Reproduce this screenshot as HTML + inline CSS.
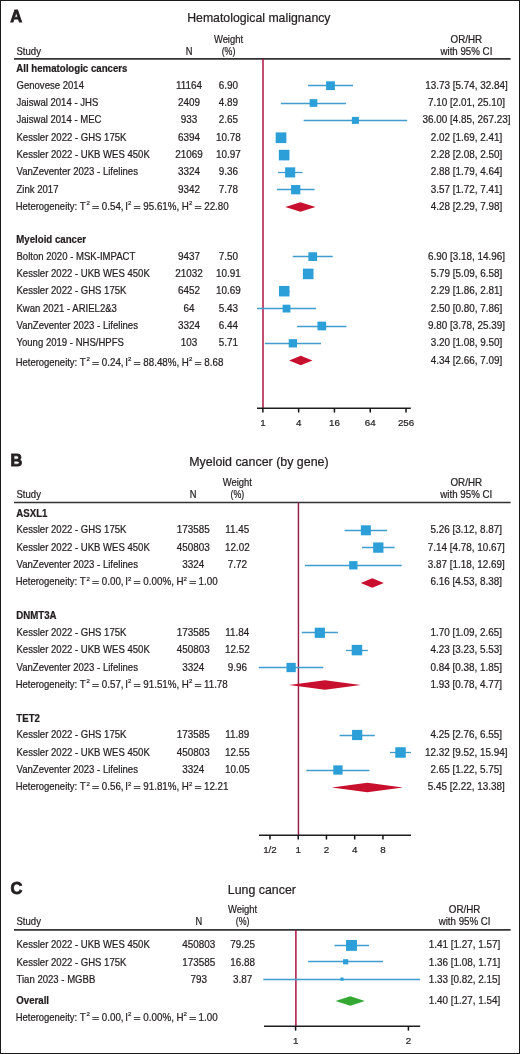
<!DOCTYPE html>
<html><head><meta charset="utf-8"><style>
html,body{margin:0;padding:0;background:#fff;}
svg{display:block;will-change:transform;}
text{font-family:"Liberation Sans",sans-serif;fill:#231f20;stroke:#231f20;stroke-width:0.22px;}
</style></head><body>
<svg width="520" height="1054" viewBox="0 0 520 1054">
<rect x="0" y="0" width="520" height="1054" fill="#fff"/>
<rect x="0.5" y="0.5" width="519" height="1053" fill="none" stroke="#1a1a1a" stroke-width="1"/>
<text x="10.30" y="22.10" font-size="17.2" text-anchor="start" font-weight="bold" textLength="11.92" lengthAdjust="spacingAndGlyphs" style="stroke-width:0.8px">A</text>
<text x="187.20" y="22.20" font-size="12.2" text-anchor="start" font-weight="normal" textLength="143.30" lengthAdjust="spacingAndGlyphs" >Hematological malignancy</text>
<text x="16.50" y="54.70" font-size="10.2" text-anchor="start" font-weight="normal" textLength="24.43" lengthAdjust="spacingAndGlyphs" >Study</text>
<text x="189.00" y="54.70" font-size="10.2" text-anchor="middle" font-weight="normal" textLength="6.72" lengthAdjust="spacingAndGlyphs" >N</text>
<text x="228.50" y="42.70" font-size="10.2" text-anchor="middle" font-weight="normal" textLength="29.20" lengthAdjust="spacingAndGlyphs" >Weight</text>
<text x="228.50" y="54.70" font-size="10.2" text-anchor="middle" font-weight="normal" textLength="13.72" lengthAdjust="spacingAndGlyphs" >(%)</text>
<text x="466.40" y="42.70" font-size="10.2" text-anchor="middle" font-weight="normal" textLength="31.58" lengthAdjust="spacingAndGlyphs" >OR/HR</text>
<text x="466.40" y="54.70" font-size="10.2" text-anchor="middle" font-weight="normal" textLength="51.92" lengthAdjust="spacingAndGlyphs" >with 95% CI</text>
<line x1="14.00" y1="58.90" x2="510.60" y2="58.90" stroke="#333" stroke-width="1.7"/>
<line x1="263.00" y1="58.90" x2="263.00" y2="408.20" stroke="#ab0c3c" stroke-width="1.45"/>
<line x1="257.00" y1="408.20" x2="410.80" y2="408.20" stroke="#1e1e1e" stroke-width="1.6"/>
<line x1="262.85" y1="408.20" x2="262.85" y2="412.50" stroke="#111" stroke-width="1.5"/>
<text x="262.85" y="425.80" font-size="9.8" text-anchor="middle" font-weight="normal" textLength="5.45" lengthAdjust="spacingAndGlyphs" >1</text>
<line x1="298.65" y1="408.20" x2="298.65" y2="412.50" stroke="#111" stroke-width="1.5"/>
<text x="298.65" y="425.80" font-size="9.8" text-anchor="middle" font-weight="normal" textLength="5.45" lengthAdjust="spacingAndGlyphs" >4</text>
<line x1="334.45" y1="408.20" x2="334.45" y2="412.50" stroke="#111" stroke-width="1.5"/>
<text x="334.45" y="425.80" font-size="9.8" text-anchor="middle" font-weight="normal" textLength="10.90" lengthAdjust="spacingAndGlyphs" >16</text>
<line x1="370.25" y1="408.20" x2="370.25" y2="412.50" stroke="#111" stroke-width="1.5"/>
<text x="370.25" y="425.80" font-size="9.8" text-anchor="middle" font-weight="normal" textLength="10.90" lengthAdjust="spacingAndGlyphs" >64</text>
<line x1="406.05" y1="408.20" x2="406.05" y2="412.50" stroke="#111" stroke-width="1.5"/>
<text x="406.05" y="425.80" font-size="9.8" text-anchor="middle" font-weight="normal" textLength="16.35" lengthAdjust="spacingAndGlyphs" >256</text>
<text x="16.30" y="71.90" font-size="10.2" text-anchor="start" font-weight="bold" textLength="111.11" lengthAdjust="spacingAndGlyphs" >All hematologic cancers</text>
<text x="16.50" y="88.70" font-size="10.2" text-anchor="start" font-weight="normal" textLength="67.46" lengthAdjust="spacingAndGlyphs" >Genovese 2014</text>
<text x="189.00" y="88.70" font-size="10.2" text-anchor="middle" font-weight="normal" textLength="26.05" lengthAdjust="spacingAndGlyphs" >11164</text>
<text x="228.50" y="88.70" font-size="10.2" text-anchor="middle" font-weight="normal" textLength="19.26" lengthAdjust="spacingAndGlyphs" >6.90</text>
<text x="466.40" y="88.70" font-size="10.2" text-anchor="middle" font-weight="normal" textLength="82.54" lengthAdjust="spacingAndGlyphs" >13.73 [5.74, 32.84]</text>
<line x1="307.98" y1="85.50" x2="353.02" y2="85.50" stroke="#3f9dcf" stroke-width="1.3"/>
<rect x="326.10" y="81.30" width="8.80" height="8.80" fill="#2c9fd9"/>
<text x="16.50" y="106.00" font-size="10.2" text-anchor="start" font-weight="normal" textLength="81.78" lengthAdjust="spacingAndGlyphs" >Jaiswal 2014 - JHS</text>
<text x="189.00" y="106.00" font-size="10.2" text-anchor="middle" font-weight="normal" textLength="22.02" lengthAdjust="spacingAndGlyphs" >2409</text>
<text x="228.50" y="106.00" font-size="10.2" text-anchor="middle" font-weight="normal" textLength="19.26" lengthAdjust="spacingAndGlyphs" >4.89</text>
<text x="466.40" y="106.00" font-size="10.2" text-anchor="middle" font-weight="normal" textLength="77.04" lengthAdjust="spacingAndGlyphs" >7.10 [2.01, 25.10]</text>
<line x1="280.88" y1="103.50" x2="346.08" y2="103.50" stroke="#3f9dcf" stroke-width="1.3"/>
<rect x="309.62" y="99.15" width="7.70" height="7.70" fill="#2c9fd9"/>
<text x="16.50" y="123.40" font-size="10.2" text-anchor="start" font-weight="normal" textLength="84.96" lengthAdjust="spacingAndGlyphs" >Jaiswal 2014 - MEC</text>
<text x="189.00" y="123.40" font-size="10.2" text-anchor="middle" font-weight="normal" textLength="16.51" lengthAdjust="spacingAndGlyphs" >933</text>
<text x="228.50" y="123.40" font-size="10.2" text-anchor="middle" font-weight="normal" textLength="19.26" lengthAdjust="spacingAndGlyphs" >2.65</text>
<text x="466.40" y="123.40" font-size="10.2" text-anchor="middle" font-weight="normal" textLength="88.05" lengthAdjust="spacingAndGlyphs" >36.00 [4.85, 267.23]</text>
<line x1="303.63" y1="120.50" x2="407.16" y2="120.50" stroke="#3f9dcf" stroke-width="1.3"/>
<rect x="351.89" y="116.90" width="7.00" height="7.00" fill="#2c9fd9"/>
<text x="16.50" y="140.75" font-size="10.2" text-anchor="start" font-weight="normal" textLength="109.93" lengthAdjust="spacingAndGlyphs" >Kessler 2022 - GHS 175K</text>
<text x="189.00" y="140.75" font-size="10.2" text-anchor="middle" font-weight="normal" textLength="22.02" lengthAdjust="spacingAndGlyphs" >6394</text>
<text x="228.50" y="140.75" font-size="10.2" text-anchor="middle" font-weight="normal" textLength="24.77" lengthAdjust="spacingAndGlyphs" >10.78</text>
<text x="466.40" y="140.75" font-size="10.2" text-anchor="middle" font-weight="normal" textLength="71.54" lengthAdjust="spacingAndGlyphs" >2.02 [1.69, 2.41]</text>
<line x1="276.40" y1="137.50" x2="285.57" y2="137.50" stroke="#3f9dcf" stroke-width="1.3"/>
<rect x="275.66" y="132.40" width="10.70" height="10.70" fill="#2c9fd9"/>
<text x="16.50" y="158.10" font-size="10.2" text-anchor="start" font-weight="normal" textLength="133.30" lengthAdjust="spacingAndGlyphs" >Kessler 2022 - UKB WES 450K</text>
<text x="189.00" y="158.10" font-size="10.2" text-anchor="middle" font-weight="normal" textLength="27.52" lengthAdjust="spacingAndGlyphs" >21069</text>
<text x="228.50" y="158.10" font-size="10.2" text-anchor="middle" font-weight="normal" textLength="24.77" lengthAdjust="spacingAndGlyphs" >10.97</text>
<text x="466.40" y="158.10" font-size="10.2" text-anchor="middle" font-weight="normal" textLength="71.54" lengthAdjust="spacingAndGlyphs" >2.28 [2.08, 2.50]</text>
<line x1="281.76" y1="155.50" x2="286.51" y2="155.50" stroke="#3f9dcf" stroke-width="1.3"/>
<rect x="278.83" y="149.80" width="10.60" height="10.60" fill="#2c9fd9"/>
<text x="16.50" y="175.40" font-size="10.2" text-anchor="start" font-weight="normal" textLength="121.45" lengthAdjust="spacingAndGlyphs" >VanZeventer 2023 - Lifelines</text>
<text x="189.00" y="175.40" font-size="10.2" text-anchor="middle" font-weight="normal" textLength="22.02" lengthAdjust="spacingAndGlyphs" >3324</text>
<text x="228.50" y="175.40" font-size="10.2" text-anchor="middle" font-weight="normal" textLength="19.26" lengthAdjust="spacingAndGlyphs" >9.36</text>
<text x="466.40" y="175.40" font-size="10.2" text-anchor="middle" font-weight="normal" textLength="71.54" lengthAdjust="spacingAndGlyphs" >2.88 [1.79, 4.64]</text>
<line x1="277.89" y1="172.50" x2="302.48" y2="172.50" stroke="#3f9dcf" stroke-width="1.3"/>
<rect x="285.12" y="167.35" width="10.10" height="10.10" fill="#2c9fd9"/>
<text x="16.50" y="192.70" font-size="10.2" text-anchor="start" font-weight="normal" textLength="41.96" lengthAdjust="spacingAndGlyphs" >Zink 2017</text>
<text x="189.00" y="192.70" font-size="10.2" text-anchor="middle" font-weight="normal" textLength="22.02" lengthAdjust="spacingAndGlyphs" >9342</text>
<text x="228.50" y="192.70" font-size="10.2" text-anchor="middle" font-weight="normal" textLength="19.26" lengthAdjust="spacingAndGlyphs" >7.78</text>
<text x="466.40" y="192.70" font-size="10.2" text-anchor="middle" font-weight="normal" textLength="71.54" lengthAdjust="spacingAndGlyphs" >3.57 [1.72, 7.41]</text>
<line x1="276.86" y1="189.50" x2="314.57" y2="189.50" stroke="#3f9dcf" stroke-width="1.3"/>
<rect x="291.06" y="185.05" width="9.30" height="9.30" fill="#2c9fd9"/>
<text x="15.73" y="210.00" font-size="10.2" textLength="61.50" lengthAdjust="spacingAndGlyphs">Heterogeneity:</text>
<text x="79.76" y="210.00" font-size="10.2" textLength="5.99" lengthAdjust="spacingAndGlyphs">T</text>
<text x="86.41" y="205.10" font-size="6.1">2</text>
<rect x="92.30" y="206" width="6.50" height="1" fill="#231f20" fill-opacity="0.8"/>
<rect x="92.30" y="208" width="6.50" height="1" fill="#231f20" fill-opacity="0.8"/>
<text x="101.82" y="210.00" font-size="10.2" textLength="21.79" lengthAdjust="spacingAndGlyphs">0.54,</text>
<text x="125.23" y="210.00" font-size="10.2" textLength="2.72" lengthAdjust="spacingAndGlyphs">I</text>
<text x="127.95" y="205.10" font-size="6.1">2</text>
<rect x="133.83" y="206" width="6.50" height="1" fill="#231f20" fill-opacity="0.8"/>
<rect x="133.83" y="208" width="6.50" height="1" fill="#231f20" fill-opacity="0.8"/>
<text x="143.27" y="210.00" font-size="10.2" textLength="35.96" lengthAdjust="spacingAndGlyphs">95.61%,</text>
<text x="181.75" y="210.00" font-size="10.2" textLength="7.08" lengthAdjust="spacingAndGlyphs">H</text>
<text x="188.93" y="205.10" font-size="6.1">2</text>
<rect x="194.82" y="206" width="6.50" height="1" fill="#231f20" fill-opacity="0.8"/>
<rect x="194.82" y="208" width="6.50" height="1" fill="#231f20" fill-opacity="0.8"/>
<text x="204.23" y="210.00" font-size="10.2" textLength="24.52" lengthAdjust="spacingAndGlyphs">22.80</text>
<text x="466.40" y="210.00" font-size="10.2" text-anchor="middle" font-weight="normal" textLength="71.54" lengthAdjust="spacingAndGlyphs" >4.28 [2.29, 7.98]</text>
<polygon points="285.25,207.00 300.40,202.25 315.49,207.00 300.40,211.75" fill="#c8102e"/>
<text x="16.30" y="242.70" font-size="10.2" text-anchor="start" font-weight="bold" textLength="69.78" lengthAdjust="spacingAndGlyphs" >Myeloid cancer</text>
<text x="16.50" y="259.60" font-size="10.2" text-anchor="start" font-weight="normal" textLength="118.77" lengthAdjust="spacingAndGlyphs" >Bolton 2020 - MSK-IMPACT</text>
<text x="189.00" y="259.60" font-size="10.2" text-anchor="middle" font-weight="normal" textLength="22.02" lengthAdjust="spacingAndGlyphs" >9437</text>
<text x="228.50" y="259.60" font-size="10.2" text-anchor="middle" font-weight="normal" textLength="19.26" lengthAdjust="spacingAndGlyphs" >7.50</text>
<text x="466.40" y="259.60" font-size="10.2" text-anchor="middle" font-weight="normal" textLength="77.04" lengthAdjust="spacingAndGlyphs" >6.90 [3.18, 14.96]</text>
<line x1="292.73" y1="256.50" x2="332.71" y2="256.50" stroke="#3f9dcf" stroke-width="1.3"/>
<rect x="308.38" y="252.25" width="8.70" height="8.70" fill="#2c9fd9"/>
<text x="16.50" y="276.90" font-size="10.2" text-anchor="start" font-weight="normal" textLength="133.30" lengthAdjust="spacingAndGlyphs" >Kessler 2022 - UKB WES 450K</text>
<text x="189.00" y="276.90" font-size="10.2" text-anchor="middle" font-weight="normal" textLength="27.52" lengthAdjust="spacingAndGlyphs" >21032</text>
<text x="228.50" y="276.90" font-size="10.2" text-anchor="middle" font-weight="normal" textLength="24.77" lengthAdjust="spacingAndGlyphs" >10.91</text>
<text x="466.40" y="276.90" font-size="10.2" text-anchor="middle" font-weight="normal" textLength="71.54" lengthAdjust="spacingAndGlyphs" >5.79 [5.09, 6.58]</text>
<line x1="304.87" y1="273.50" x2="311.50" y2="273.50" stroke="#3f9dcf" stroke-width="1.3"/>
<rect x="302.90" y="268.60" width="10.60" height="10.60" fill="#2c9fd9"/>
<text x="16.50" y="294.20" font-size="10.2" text-anchor="start" font-weight="normal" textLength="109.93" lengthAdjust="spacingAndGlyphs" >Kessler 2022 - GHS 175K</text>
<text x="189.00" y="294.20" font-size="10.2" text-anchor="middle" font-weight="normal" textLength="22.02" lengthAdjust="spacingAndGlyphs" >6452</text>
<text x="228.50" y="294.20" font-size="10.2" text-anchor="middle" font-weight="normal" textLength="24.77" lengthAdjust="spacingAndGlyphs" >10.69</text>
<text x="466.40" y="294.20" font-size="10.2" text-anchor="middle" font-weight="normal" textLength="71.54" lengthAdjust="spacingAndGlyphs" >2.29 [1.86, 2.81]</text>
<line x1="278.88" y1="291.50" x2="289.53" y2="291.50" stroke="#3f9dcf" stroke-width="1.3"/>
<rect x="279.00" y="285.95" width="10.50" height="10.50" fill="#2c9fd9"/>
<text x="16.50" y="311.60" font-size="10.2" text-anchor="start" font-weight="normal" textLength="100.39" lengthAdjust="spacingAndGlyphs" >Kwan 2021 - ARIEL2&amp;3</text>
<text x="189.00" y="311.60" font-size="10.2" text-anchor="middle" font-weight="normal" textLength="11.01" lengthAdjust="spacingAndGlyphs" >64</text>
<text x="228.50" y="311.60" font-size="10.2" text-anchor="middle" font-weight="normal" textLength="19.26" lengthAdjust="spacingAndGlyphs" >5.43</text>
<text x="466.40" y="311.60" font-size="10.2" text-anchor="middle" font-weight="normal" textLength="71.54" lengthAdjust="spacingAndGlyphs" >2.50 [0.80, 7.86]</text>
<line x1="257.09" y1="308.50" x2="316.09" y2="308.50" stroke="#3f9dcf" stroke-width="1.3"/>
<rect x="282.61" y="304.70" width="7.80" height="7.80" fill="#2c9fd9"/>
<text x="16.50" y="329.00" font-size="10.2" text-anchor="start" font-weight="normal" textLength="121.45" lengthAdjust="spacingAndGlyphs" >VanZeventer 2023 - Lifelines</text>
<text x="189.00" y="329.00" font-size="10.2" text-anchor="middle" font-weight="normal" textLength="22.02" lengthAdjust="spacingAndGlyphs" >3324</text>
<text x="228.50" y="329.00" font-size="10.2" text-anchor="middle" font-weight="normal" textLength="19.26" lengthAdjust="spacingAndGlyphs" >6.44</text>
<text x="466.40" y="329.00" font-size="10.2" text-anchor="middle" font-weight="normal" textLength="77.04" lengthAdjust="spacingAndGlyphs" >9.80 [3.78, 25.39]</text>
<line x1="297.19" y1="326.50" x2="346.37" y2="326.50" stroke="#3f9dcf" stroke-width="1.3"/>
<rect x="317.44" y="321.65" width="8.70" height="8.70" fill="#2c9fd9"/>
<text x="16.50" y="346.30" font-size="10.2" text-anchor="start" font-weight="normal" textLength="107.46" lengthAdjust="spacingAndGlyphs" >Young 2019 - NHS/HPFS</text>
<text x="189.00" y="346.30" font-size="10.2" text-anchor="middle" font-weight="normal" textLength="16.51" lengthAdjust="spacingAndGlyphs" >103</text>
<text x="228.50" y="346.30" font-size="10.2" text-anchor="middle" font-weight="normal" textLength="19.26" lengthAdjust="spacingAndGlyphs" >5.71</text>
<text x="466.40" y="346.30" font-size="10.2" text-anchor="middle" font-weight="normal" textLength="71.54" lengthAdjust="spacingAndGlyphs" >3.20 [1.08, 9.50]</text>
<line x1="264.84" y1="343.50" x2="320.99" y2="343.50" stroke="#3f9dcf" stroke-width="1.3"/>
<rect x="288.74" y="339.15" width="8.30" height="8.30" fill="#2c9fd9"/>
<text x="15.73" y="366.00" font-size="10.2" textLength="61.50" lengthAdjust="spacingAndGlyphs">Heterogeneity:</text>
<text x="79.76" y="366.00" font-size="10.2" textLength="5.99" lengthAdjust="spacingAndGlyphs">T</text>
<text x="86.41" y="361.10" font-size="6.1">2</text>
<rect x="92.30" y="362" width="6.50" height="1" fill="#231f20" fill-opacity="0.8"/>
<rect x="92.30" y="364" width="6.50" height="1" fill="#231f20" fill-opacity="0.8"/>
<text x="101.82" y="366.00" font-size="10.2" textLength="21.79" lengthAdjust="spacingAndGlyphs">0.24,</text>
<text x="125.23" y="366.00" font-size="10.2" textLength="2.72" lengthAdjust="spacingAndGlyphs">I</text>
<text x="127.95" y="361.10" font-size="6.1">2</text>
<rect x="133.83" y="362" width="6.50" height="1" fill="#231f20" fill-opacity="0.8"/>
<rect x="133.83" y="364" width="6.50" height="1" fill="#231f20" fill-opacity="0.8"/>
<text x="143.30" y="366.00" font-size="10.2" textLength="35.96" lengthAdjust="spacingAndGlyphs">88.48%,</text>
<text x="181.78" y="366.00" font-size="10.2" textLength="7.08" lengthAdjust="spacingAndGlyphs">H</text>
<text x="188.96" y="361.10" font-size="6.1">2</text>
<rect x="194.85" y="362" width="6.50" height="1" fill="#231f20" fill-opacity="0.8"/>
<rect x="194.85" y="364" width="6.50" height="1" fill="#231f20" fill-opacity="0.8"/>
<text x="204.32" y="366.00" font-size="10.2" textLength="19.07" lengthAdjust="spacingAndGlyphs">8.68</text>
<text x="466.40" y="363.60" font-size="10.2" text-anchor="middle" font-weight="normal" textLength="71.54" lengthAdjust="spacingAndGlyphs" >4.34 [2.66, 7.09]</text>
<polygon points="289.11,360.60 300.76,355.85 312.43,360.60 300.76,365.35" fill="#c8102e"/>
<text x="10.60" y="466.00" font-size="17.2" text-anchor="start" font-weight="bold" textLength="11.92" lengthAdjust="spacingAndGlyphs" style="stroke-width:0.8px">B</text>
<text x="189.20" y="466.30" font-size="12.2" text-anchor="start" font-weight="normal" textLength="139.40" lengthAdjust="spacingAndGlyphs" >Myeloid cancer (by gene)</text>
<text x="16.50" y="498.20" font-size="10.2" text-anchor="start" font-weight="normal" textLength="24.43" lengthAdjust="spacingAndGlyphs" >Study</text>
<text x="193.20" y="498.20" font-size="10.2" text-anchor="middle" font-weight="normal" textLength="6.72" lengthAdjust="spacingAndGlyphs" >N</text>
<text x="237.30" y="486.20" font-size="10.2" text-anchor="middle" font-weight="normal" textLength="29.20" lengthAdjust="spacingAndGlyphs" >Weight</text>
<text x="237.30" y="498.20" font-size="10.2" text-anchor="middle" font-weight="normal" textLength="13.72" lengthAdjust="spacingAndGlyphs" >(%)</text>
<text x="466.30" y="486.20" font-size="10.2" text-anchor="middle" font-weight="normal" textLength="31.58" lengthAdjust="spacingAndGlyphs" >OR/HR</text>
<text x="466.30" y="498.20" font-size="10.2" text-anchor="middle" font-weight="normal" textLength="51.92" lengthAdjust="spacingAndGlyphs" >with 95% CI</text>
<line x1="14.00" y1="502.50" x2="510.60" y2="502.50" stroke="#333" stroke-width="1.7"/>
<line x1="298.45" y1="502.50" x2="298.45" y2="835.20" stroke="#951d4a" stroke-width="1.45"/>
<line x1="259.00" y1="835.20" x2="411.00" y2="835.20" stroke="#1e1e1e" stroke-width="1.6"/>
<line x1="269.97" y1="835.20" x2="269.97" y2="839.50" stroke="#111" stroke-width="1.5"/>
<text x="269.97" y="852.80" font-size="9.8" text-anchor="middle" font-weight="normal" textLength="13.62" lengthAdjust="spacingAndGlyphs" >1/2</text>
<line x1="298.21" y1="835.20" x2="298.21" y2="839.50" stroke="#111" stroke-width="1.5"/>
<text x="298.21" y="852.80" font-size="9.8" text-anchor="middle" font-weight="normal" textLength="5.45" lengthAdjust="spacingAndGlyphs" >1</text>
<line x1="326.45" y1="835.20" x2="326.45" y2="839.50" stroke="#111" stroke-width="1.5"/>
<text x="326.45" y="852.80" font-size="9.8" text-anchor="middle" font-weight="normal" textLength="5.45" lengthAdjust="spacingAndGlyphs" >2</text>
<line x1="354.69" y1="835.20" x2="354.69" y2="839.50" stroke="#111" stroke-width="1.5"/>
<text x="354.69" y="852.80" font-size="9.8" text-anchor="middle" font-weight="normal" textLength="5.45" lengthAdjust="spacingAndGlyphs" >4</text>
<line x1="382.93" y1="835.20" x2="382.93" y2="839.50" stroke="#111" stroke-width="1.5"/>
<text x="382.93" y="852.80" font-size="9.8" text-anchor="middle" font-weight="normal" textLength="5.45" lengthAdjust="spacingAndGlyphs" >8</text>
<text x="16.30" y="517.30" font-size="10.2" text-anchor="start" font-weight="bold" textLength="31.13" lengthAdjust="spacingAndGlyphs" >ASXL1</text>
<text x="16.50" y="533.30" font-size="10.2" text-anchor="start" font-weight="normal" textLength="109.93" lengthAdjust="spacingAndGlyphs" >Kessler 2022 - GHS 175K</text>
<text x="193.20" y="533.30" font-size="10.2" text-anchor="middle" font-weight="normal" textLength="33.03" lengthAdjust="spacingAndGlyphs" >173585</text>
<text x="237.30" y="533.30" font-size="10.2" text-anchor="middle" font-weight="normal" textLength="24.03" lengthAdjust="spacingAndGlyphs" >11.45</text>
<text x="466.30" y="533.30" font-size="10.2" text-anchor="middle" font-weight="normal" textLength="71.54" lengthAdjust="spacingAndGlyphs" >5.26 [3.12, 8.87]</text>
<line x1="344.57" y1="530.50" x2="387.14" y2="530.50" stroke="#3f9dcf" stroke-width="1.3"/>
<rect x="360.85" y="525.30" width="10.00" height="10.00" fill="#2c9fd9"/>
<text x="16.50" y="550.60" font-size="10.2" text-anchor="start" font-weight="normal" textLength="133.30" lengthAdjust="spacingAndGlyphs" >Kessler 2022 - UKB WES 450K</text>
<text x="193.20" y="550.60" font-size="10.2" text-anchor="middle" font-weight="normal" textLength="33.03" lengthAdjust="spacingAndGlyphs" >450803</text>
<text x="237.30" y="550.60" font-size="10.2" text-anchor="middle" font-weight="normal" textLength="24.77" lengthAdjust="spacingAndGlyphs" >12.02</text>
<text x="466.30" y="550.60" font-size="10.2" text-anchor="middle" font-weight="normal" textLength="77.04" lengthAdjust="spacingAndGlyphs" >7.14 [4.78, 10.67]</text>
<line x1="361.95" y1="547.50" x2="394.66" y2="547.50" stroke="#3f9dcf" stroke-width="1.3"/>
<rect x="373.15" y="542.45" width="10.30" height="10.30" fill="#2c9fd9"/>
<text x="16.50" y="568.30" font-size="10.2" text-anchor="start" font-weight="normal" textLength="121.45" lengthAdjust="spacingAndGlyphs" >VanZeventer 2023 - Lifelines</text>
<text x="193.20" y="568.30" font-size="10.2" text-anchor="middle" font-weight="normal" textLength="22.02" lengthAdjust="spacingAndGlyphs" >3324</text>
<text x="237.30" y="568.30" font-size="10.2" text-anchor="middle" font-weight="normal" textLength="19.26" lengthAdjust="spacingAndGlyphs" >7.72</text>
<text x="466.30" y="568.30" font-size="10.2" text-anchor="middle" font-weight="normal" textLength="77.04" lengthAdjust="spacingAndGlyphs" >3.87 [1.18, 12.69]</text>
<line x1="304.95" y1="565.50" x2="401.73" y2="565.50" stroke="#3f9dcf" stroke-width="1.3"/>
<rect x="349.19" y="561.15" width="8.30" height="8.30" fill="#2c9fd9"/>
<text x="15.73" y="585.40" font-size="10.2" textLength="61.50" lengthAdjust="spacingAndGlyphs">Heterogeneity:</text>
<text x="79.76" y="585.40" font-size="10.2" textLength="5.99" lengthAdjust="spacingAndGlyphs">T</text>
<text x="86.41" y="580.50" font-size="6.1">2</text>
<rect x="92.30" y="581" width="6.50" height="1" fill="#231f20" fill-opacity="0.8"/>
<rect x="92.30" y="583" width="6.50" height="1" fill="#231f20" fill-opacity="0.8"/>
<text x="101.82" y="585.40" font-size="10.2" textLength="21.79" lengthAdjust="spacingAndGlyphs">0.00,</text>
<text x="125.23" y="585.40" font-size="10.2" textLength="2.72" lengthAdjust="spacingAndGlyphs">I</text>
<text x="127.95" y="580.50" font-size="6.1">2</text>
<rect x="133.83" y="581" width="6.50" height="1" fill="#231f20" fill-opacity="0.8"/>
<rect x="133.83" y="583" width="6.50" height="1" fill="#231f20" fill-opacity="0.8"/>
<text x="143.35" y="585.40" font-size="10.2" textLength="30.51" lengthAdjust="spacingAndGlyphs">0.00%,</text>
<text x="176.38" y="585.40" font-size="10.2" textLength="7.08" lengthAdjust="spacingAndGlyphs">H</text>
<text x="183.56" y="580.50" font-size="6.1">2</text>
<rect x="189.45" y="581" width="6.50" height="1" fill="#231f20" fill-opacity="0.8"/>
<rect x="189.45" y="583" width="6.50" height="1" fill="#231f20" fill-opacity="0.8"/>
<text x="198.60" y="585.40" font-size="10.2" textLength="19.07" lengthAdjust="spacingAndGlyphs">1.00</text>
<text x="466.30" y="585.40" font-size="10.2" text-anchor="middle" font-weight="normal" textLength="71.54" lengthAdjust="spacingAndGlyphs" >6.16 [4.53, 8.38]</text>
<polygon points="360.76,583.00 372.28,578.25 383.82,583.00 372.28,587.75" fill="#c8102e"/>
<text x="16.30" y="619.30" font-size="10.2" text-anchor="start" font-weight="bold" textLength="40.24" lengthAdjust="spacingAndGlyphs" >DNMT3A</text>
<text x="16.50" y="635.80" font-size="10.2" text-anchor="start" font-weight="normal" textLength="109.93" lengthAdjust="spacingAndGlyphs" >Kessler 2022 - GHS 175K</text>
<text x="193.20" y="635.80" font-size="10.2" text-anchor="middle" font-weight="normal" textLength="33.03" lengthAdjust="spacingAndGlyphs" >173585</text>
<text x="237.30" y="635.80" font-size="10.2" text-anchor="middle" font-weight="normal" textLength="24.03" lengthAdjust="spacingAndGlyphs" >11.84</text>
<text x="466.30" y="635.80" font-size="10.2" text-anchor="middle" font-weight="normal" textLength="71.54" lengthAdjust="spacingAndGlyphs" >1.70 [1.09, 2.65]</text>
<line x1="301.72" y1="632.50" x2="337.92" y2="632.50" stroke="#3f9dcf" stroke-width="1.3"/>
<rect x="314.73" y="627.70" width="10.20" height="10.20" fill="#2c9fd9"/>
<text x="16.50" y="653.10" font-size="10.2" text-anchor="start" font-weight="normal" textLength="133.30" lengthAdjust="spacingAndGlyphs" >Kessler 2022 - UKB WES 450K</text>
<text x="193.20" y="653.10" font-size="10.2" text-anchor="middle" font-weight="normal" textLength="33.03" lengthAdjust="spacingAndGlyphs" >450803</text>
<text x="237.30" y="653.10" font-size="10.2" text-anchor="middle" font-weight="normal" textLength="24.77" lengthAdjust="spacingAndGlyphs" >12.52</text>
<text x="466.30" y="653.10" font-size="10.2" text-anchor="middle" font-weight="normal" textLength="71.54" lengthAdjust="spacingAndGlyphs" >4.23 [3.23, 5.53]</text>
<line x1="345.98" y1="650.50" x2="367.89" y2="650.50" stroke="#3f9dcf" stroke-width="1.3"/>
<rect x="351.72" y="644.85" width="10.50" height="10.50" fill="#2c9fd9"/>
<text x="16.50" y="670.50" font-size="10.2" text-anchor="start" font-weight="normal" textLength="121.45" lengthAdjust="spacingAndGlyphs" >VanZeventer 2023 - Lifelines</text>
<text x="193.20" y="670.50" font-size="10.2" text-anchor="middle" font-weight="normal" textLength="22.02" lengthAdjust="spacingAndGlyphs" >3324</text>
<text x="237.30" y="670.50" font-size="10.2" text-anchor="middle" font-weight="normal" textLength="19.26" lengthAdjust="spacingAndGlyphs" >9.96</text>
<text x="466.30" y="670.50" font-size="10.2" text-anchor="middle" font-weight="normal" textLength="71.54" lengthAdjust="spacingAndGlyphs" >0.84 [0.38, 1.85]</text>
<line x1="258.79" y1="667.50" x2="323.27" y2="667.50" stroke="#3f9dcf" stroke-width="1.3"/>
<rect x="286.46" y="662.85" width="9.30" height="9.30" fill="#2c9fd9"/>
<text x="15.73" y="687.70" font-size="10.2" textLength="61.50" lengthAdjust="spacingAndGlyphs">Heterogeneity:</text>
<text x="79.76" y="687.70" font-size="10.2" textLength="5.99" lengthAdjust="spacingAndGlyphs">T</text>
<text x="86.41" y="682.80" font-size="6.1">2</text>
<rect x="92.30" y="684" width="6.50" height="1" fill="#231f20" fill-opacity="0.8"/>
<rect x="92.30" y="686" width="6.50" height="1" fill="#231f20" fill-opacity="0.8"/>
<text x="101.82" y="687.70" font-size="10.2" textLength="21.79" lengthAdjust="spacingAndGlyphs">0.57,</text>
<text x="125.23" y="687.70" font-size="10.2" textLength="2.72" lengthAdjust="spacingAndGlyphs">I</text>
<text x="127.95" y="682.80" font-size="6.1">2</text>
<rect x="133.83" y="684" width="6.50" height="1" fill="#231f20" fill-opacity="0.8"/>
<rect x="133.83" y="686" width="6.50" height="1" fill="#231f20" fill-opacity="0.8"/>
<text x="143.27" y="687.70" font-size="10.2" textLength="35.96" lengthAdjust="spacingAndGlyphs">91.51%,</text>
<text x="181.75" y="687.70" font-size="10.2" textLength="7.08" lengthAdjust="spacingAndGlyphs">H</text>
<text x="188.93" y="682.80" font-size="6.1">2</text>
<rect x="194.82" y="684" width="6.50" height="1" fill="#231f20" fill-opacity="0.8"/>
<rect x="194.82" y="686" width="6.50" height="1" fill="#231f20" fill-opacity="0.8"/>
<text x="203.97" y="687.70" font-size="10.2" textLength="23.79" lengthAdjust="spacingAndGlyphs">11.78</text>
<text x="466.30" y="687.70" font-size="10.2" text-anchor="middle" font-weight="normal" textLength="71.54" lengthAdjust="spacingAndGlyphs" >1.93 [0.78, 4.77]</text>
<polygon points="289.09,684.90 325.00,680.15 360.86,684.90 325.00,689.65" fill="#c8102e"/>
<text x="16.30" y="721.90" font-size="10.2" text-anchor="start" font-weight="bold" textLength="23.61" lengthAdjust="spacingAndGlyphs" >TET2</text>
<text x="16.50" y="738.00" font-size="10.2" text-anchor="start" font-weight="normal" textLength="109.93" lengthAdjust="spacingAndGlyphs" >Kessler 2022 - GHS 175K</text>
<text x="193.20" y="738.00" font-size="10.2" text-anchor="middle" font-weight="normal" textLength="33.03" lengthAdjust="spacingAndGlyphs" >173585</text>
<text x="237.30" y="738.00" font-size="10.2" text-anchor="middle" font-weight="normal" textLength="24.03" lengthAdjust="spacingAndGlyphs" >11.89</text>
<text x="466.30" y="738.00" font-size="10.2" text-anchor="middle" font-weight="normal" textLength="71.54" lengthAdjust="spacingAndGlyphs" >4.25 [2.76, 6.55]</text>
<line x1="339.57" y1="735.50" x2="374.78" y2="735.50" stroke="#3f9dcf" stroke-width="1.3"/>
<rect x="352.06" y="729.90" width="10.20" height="10.20" fill="#2c9fd9"/>
<text x="16.50" y="755.50" font-size="10.2" text-anchor="start" font-weight="normal" textLength="133.30" lengthAdjust="spacingAndGlyphs" >Kessler 2022 - UKB WES 450K</text>
<text x="193.20" y="755.50" font-size="10.2" text-anchor="middle" font-weight="normal" textLength="33.03" lengthAdjust="spacingAndGlyphs" >450803</text>
<text x="237.30" y="755.50" font-size="10.2" text-anchor="middle" font-weight="normal" textLength="24.77" lengthAdjust="spacingAndGlyphs" >12.55</text>
<text x="466.30" y="755.50" font-size="10.2" text-anchor="middle" font-weight="normal" textLength="82.54" lengthAdjust="spacingAndGlyphs" >12.32 [9.52, 15.94]</text>
<line x1="390.02" y1="752.50" x2="411.02" y2="752.50" stroke="#3f9dcf" stroke-width="1.3"/>
<rect x="395.27" y="747.25" width="10.50" height="10.50" fill="#2c9fd9"/>
<text x="16.50" y="773.00" font-size="10.2" text-anchor="start" font-weight="normal" textLength="121.45" lengthAdjust="spacingAndGlyphs" >VanZeventer 2023 - Lifelines</text>
<text x="193.20" y="773.00" font-size="10.2" text-anchor="middle" font-weight="normal" textLength="22.02" lengthAdjust="spacingAndGlyphs" >3324</text>
<text x="237.30" y="773.00" font-size="10.2" text-anchor="middle" font-weight="normal" textLength="24.77" lengthAdjust="spacingAndGlyphs" >10.05</text>
<text x="466.30" y="773.00" font-size="10.2" text-anchor="middle" font-weight="normal" textLength="71.54" lengthAdjust="spacingAndGlyphs" >2.65 [1.22, 5.75]</text>
<line x1="306.31" y1="770.50" x2="369.48" y2="770.50" stroke="#3f9dcf" stroke-width="1.3"/>
<rect x="333.27" y="765.35" width="9.30" height="9.30" fill="#2c9fd9"/>
<text x="15.73" y="790.40" font-size="10.2" textLength="61.50" lengthAdjust="spacingAndGlyphs">Heterogeneity:</text>
<text x="79.76" y="790.40" font-size="10.2" textLength="5.99" lengthAdjust="spacingAndGlyphs">T</text>
<text x="86.41" y="785.50" font-size="6.1">2</text>
<rect x="92.30" y="786" width="6.50" height="1" fill="#231f20" fill-opacity="0.8"/>
<rect x="92.30" y="788" width="6.50" height="1" fill="#231f20" fill-opacity="0.8"/>
<text x="101.82" y="790.40" font-size="10.2" textLength="21.79" lengthAdjust="spacingAndGlyphs">0.56,</text>
<text x="125.23" y="790.40" font-size="10.2" textLength="2.72" lengthAdjust="spacingAndGlyphs">I</text>
<text x="127.95" y="785.50" font-size="6.1">2</text>
<rect x="133.83" y="786" width="6.50" height="1" fill="#231f20" fill-opacity="0.8"/>
<rect x="133.83" y="788" width="6.50" height="1" fill="#231f20" fill-opacity="0.8"/>
<text x="143.27" y="790.40" font-size="10.2" textLength="35.96" lengthAdjust="spacingAndGlyphs">91.81%,</text>
<text x="181.75" y="790.40" font-size="10.2" textLength="7.08" lengthAdjust="spacingAndGlyphs">H</text>
<text x="188.93" y="785.50" font-size="6.1">2</text>
<rect x="194.82" y="786" width="6.50" height="1" fill="#231f20" fill-opacity="0.8"/>
<rect x="194.82" y="788" width="6.50" height="1" fill="#231f20" fill-opacity="0.8"/>
<text x="203.97" y="790.40" font-size="10.2" textLength="24.52" lengthAdjust="spacingAndGlyphs">12.21</text>
<text x="466.30" y="790.40" font-size="10.2" text-anchor="middle" font-weight="normal" textLength="77.04" lengthAdjust="spacingAndGlyphs" >5.45 [2.22, 13.38]</text>
<polygon points="331.70,787.60 367.29,782.85 402.88,787.60 367.29,792.35" fill="#c8102e"/>
<text x="10.50" y="893.60" font-size="17.2" text-anchor="start" font-weight="bold" textLength="11.92" lengthAdjust="spacingAndGlyphs" style="stroke-width:0.8px">C</text>
<text x="227.80" y="893.60" font-size="12.2" text-anchor="start" font-weight="normal" textLength="68.10" lengthAdjust="spacingAndGlyphs" >Lung cancer</text>
<text x="16.50" y="925.40" font-size="10.2" text-anchor="start" font-weight="normal" textLength="24.43" lengthAdjust="spacingAndGlyphs" >Study</text>
<text x="198.80" y="925.40" font-size="10.2" text-anchor="middle" font-weight="normal" textLength="6.72" lengthAdjust="spacingAndGlyphs" >N</text>
<text x="242.60" y="913.40" font-size="10.2" text-anchor="middle" font-weight="normal" textLength="29.20" lengthAdjust="spacingAndGlyphs" >Weight</text>
<text x="242.60" y="925.40" font-size="10.2" text-anchor="middle" font-weight="normal" textLength="13.72" lengthAdjust="spacingAndGlyphs" >(%)</text>
<text x="464.60" y="913.40" font-size="10.2" text-anchor="middle" font-weight="normal" textLength="31.58" lengthAdjust="spacingAndGlyphs" >OR/HR</text>
<text x="464.60" y="925.40" font-size="10.2" text-anchor="middle" font-weight="normal" textLength="51.92" lengthAdjust="spacingAndGlyphs" >with 95% CI</text>
<line x1="14.00" y1="929.90" x2="510.60" y2="929.90" stroke="#333" stroke-width="1.7"/>
<line x1="295.90" y1="929.90" x2="295.90" y2="1026.30" stroke="#ab0c3c" stroke-width="1.45"/>
<line x1="264.00" y1="1026.30" x2="420.20" y2="1026.30" stroke="#1e1e1e" stroke-width="1.6"/>
<line x1="295.60" y1="1026.30" x2="295.60" y2="1030.60" stroke="#111" stroke-width="1.5"/>
<text x="295.60" y="1043.90" font-size="9.8" text-anchor="middle" font-weight="normal" textLength="5.45" lengthAdjust="spacingAndGlyphs" >1</text>
<line x1="408.40" y1="1026.30" x2="408.40" y2="1030.60" stroke="#111" stroke-width="1.5"/>
<text x="408.40" y="1043.90" font-size="9.8" text-anchor="middle" font-weight="normal" textLength="5.45" lengthAdjust="spacingAndGlyphs" >2</text>
<text x="16.50" y="948.30" font-size="10.2" text-anchor="start" font-weight="normal" textLength="133.30" lengthAdjust="spacingAndGlyphs" >Kessler 2022 - UKB WES 450K</text>
<text x="198.80" y="948.30" font-size="10.2" text-anchor="middle" font-weight="normal" textLength="33.03" lengthAdjust="spacingAndGlyphs" >450803</text>
<text x="242.60" y="948.30" font-size="10.2" text-anchor="middle" font-weight="normal" textLength="24.77" lengthAdjust="spacingAndGlyphs" >79.25</text>
<text x="464.60" y="948.30" font-size="10.2" text-anchor="middle" font-weight="normal" textLength="71.54" lengthAdjust="spacingAndGlyphs" >1.41 [1.27, 1.57]</text>
<line x1="334.50" y1="945.50" x2="369.01" y2="945.50" stroke="#3f9dcf" stroke-width="1.3"/>
<rect x="346.06" y="939.95" width="10.90" height="10.90" fill="#2c9fd9"/>
<text x="16.50" y="965.80" font-size="10.2" text-anchor="start" font-weight="normal" textLength="109.93" lengthAdjust="spacingAndGlyphs" >Kessler 2022 - GHS 175K</text>
<text x="198.80" y="965.80" font-size="10.2" text-anchor="middle" font-weight="normal" textLength="33.03" lengthAdjust="spacingAndGlyphs" >173585</text>
<text x="242.60" y="965.80" font-size="10.2" text-anchor="middle" font-weight="normal" textLength="24.77" lengthAdjust="spacingAndGlyphs" >16.88</text>
<text x="464.60" y="965.80" font-size="10.2" text-anchor="middle" font-weight="normal" textLength="71.54" lengthAdjust="spacingAndGlyphs" >1.36 [1.08, 1.71]</text>
<line x1="308.12" y1="961.50" x2="382.91" y2="961.50" stroke="#3f9dcf" stroke-width="1.3"/>
<rect x="343.04" y="959.20" width="5.20" height="5.20" fill="#2c9fd9"/>
<text x="16.50" y="983.20" font-size="10.2" text-anchor="start" font-weight="normal" textLength="78.77" lengthAdjust="spacingAndGlyphs" >Tian 2023 - MGBB</text>
<text x="198.80" y="983.20" font-size="10.2" text-anchor="middle" font-weight="normal" textLength="16.51" lengthAdjust="spacingAndGlyphs" >793</text>
<text x="242.60" y="983.20" font-size="10.2" text-anchor="middle" font-weight="normal" textLength="19.26" lengthAdjust="spacingAndGlyphs" >3.87</text>
<text x="464.60" y="983.20" font-size="10.2" text-anchor="middle" font-weight="normal" textLength="71.54" lengthAdjust="spacingAndGlyphs" >1.33 [0.82, 2.15]</text>
<line x1="263.30" y1="979.50" x2="420.17" y2="979.50" stroke="#3f9dcf" stroke-width="1.3"/>
<rect x="340.41" y="977.50" width="3.20" height="3.20" fill="#2c9fd9"/>
<text x="16.30" y="1004.00" font-size="10.2" text-anchor="start" font-weight="bold" textLength="32.75" lengthAdjust="spacingAndGlyphs" >Overall</text>
<text x="15.73" y="1021.30" font-size="10.2" textLength="61.50" lengthAdjust="spacingAndGlyphs">Heterogeneity:</text>
<text x="79.76" y="1021.30" font-size="10.2" textLength="5.99" lengthAdjust="spacingAndGlyphs">T</text>
<text x="86.41" y="1016.40" font-size="6.1">2</text>
<rect x="92.30" y="1017" width="6.50" height="1" fill="#231f20" fill-opacity="0.8"/>
<rect x="92.30" y="1019" width="6.50" height="1" fill="#231f20" fill-opacity="0.8"/>
<text x="101.82" y="1021.30" font-size="10.2" textLength="21.79" lengthAdjust="spacingAndGlyphs">0.00,</text>
<text x="125.23" y="1021.30" font-size="10.2" textLength="2.72" lengthAdjust="spacingAndGlyphs">I</text>
<text x="127.95" y="1016.40" font-size="6.1">2</text>
<rect x="133.83" y="1017" width="6.50" height="1" fill="#231f20" fill-opacity="0.8"/>
<rect x="133.83" y="1019" width="6.50" height="1" fill="#231f20" fill-opacity="0.8"/>
<text x="143.35" y="1021.30" font-size="10.2" textLength="30.51" lengthAdjust="spacingAndGlyphs">0.00%,</text>
<text x="176.38" y="1021.30" font-size="10.2" textLength="7.08" lengthAdjust="spacingAndGlyphs">H</text>
<text x="183.56" y="1016.40" font-size="6.1">2</text>
<rect x="189.45" y="1017" width="6.50" height="1" fill="#231f20" fill-opacity="0.8"/>
<rect x="189.45" y="1019" width="6.50" height="1" fill="#231f20" fill-opacity="0.8"/>
<text x="198.60" y="1021.30" font-size="10.2" textLength="19.07" lengthAdjust="spacingAndGlyphs">1.00</text>
<text x="464.60" y="1004.20" font-size="10.2" text-anchor="middle" font-weight="normal" textLength="71.54" lengthAdjust="spacingAndGlyphs" >1.40 [1.27, 1.54]</text>
<polygon points="335.50,1001.00 350.36,996.25 364.87,1001.00 350.36,1005.75" fill="#34a833"/>
</svg></body></html>
